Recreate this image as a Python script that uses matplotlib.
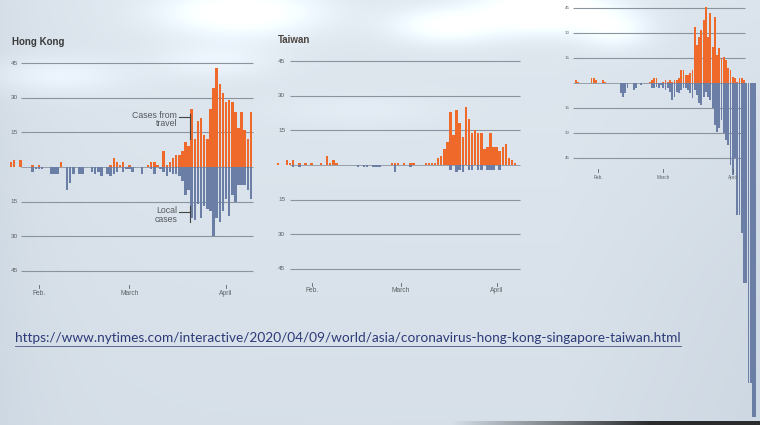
import numpy as np
import pandas as pd
import matplotlib
matplotlib.use("Agg")
import matplotlib.pyplot as plt
from matplotlib.lines import Line2D

# ---------------- data ----------------
month_ticks = [0, 29, 60]                 # days after 1 Feb 2020
month_labels = ["Feb.", "March", "April"]
grid_values = [45, 30, 15, -15, -30, -45]
grid_labels = ["45", "30", "15", "15", "30", "45"]

hk_title = "Hong Kong"
hk_start = "2020-01-23"
hk_travel = [2, 3, 0, 3, 0, 0, 0, 1, 0, 1,
             0, 0, 0, 0, 0, 0, 2, 0, 0, 0,
             0, 0, 0, 0, 0, 0, 0, 0, 0, 0,
             0, 0, 1, 4, 2, 1, 2, 0, 1, 0,
             0, 0, 0, 0, 1, 2, 2, 1, 0, 7,
             1, 2, 4, 5, 5, 7, 11, 9, 25, 12,
             20, 21, 14, 12, 25, 34, 43, 36, 32, 28,
             29, 28, 24, 17, 24, 16, 12, 24]
hk_local = [0, 0, 0, 0, 0, 0, 0, 2, 1, 1,
            1, 0, 0, 3, 3, 3, 0, 0, 10, 7,
            3, 0, 3, 3, 0, 0, 2, 3, 2, 4,
            0, 3, 4, 3, 2, 0, 2, 1, 1, 2,
            0, 0, 3, 0, 0, 1, 3, 0, 1, 2,
            4, 2, 3, 3, 4, 6, 12, 10, 22, 23,
            16, 22, 17, 18, 19, 30, 22, 24, 19, 14,
            21, 12, 15, 8, 8, 8, 10, 14]

tw_title = "Taiwan"
tw_start = "2020-01-21"
tw_travel = [1, 0, 0, 2, 1, 2, 0, 1, 0, 1,
             0, 1, 0, 0, 1, 0, 4, 1, 2, 1,
             0, 0, 0, 0, 0, 0, 0, 0, 0, 0,
             0, 0, 0, 0, 0, 0, 0, 1, 1, 1,
             0, 1, 0, 1, 1, 0, 0, 0, 1, 1,
             1, 1, 3, 4, 7, 10, 23, 13, 24, 18,
             12, 25, 20, 14, 15, 14, 14, 7, 8, 14,
             8, 8, 6, 8, 9, 3, 2, 1, 0]
tw_local = [0, 0, 0, 0, 0, 1, 0, 1, 0, 0,
            0, 0, 0, 0, 0, 0, 0, 0, 0, 0,
            0, 0, 0, 0, 0, 0, 1, 0, 1, 1,
            0, 1, 1, 1, 0, 0, 0, 0, 3, 0,
            0, 0, 0, 1, 0, 0, 0, 0, 0, 0,
            0, 0, 0, 0, 0, 0, 2, 0, 3, 2,
            3, 0, 2, 2, 0, 2, 2, 0, 2, 2,
            2, 0, 2, 0, 0, 0, 0, 0, 0]

sg_start = "2020-01-22"
sg_travel = [2, 1, 0, 0, 0, 0, 0, 3, 3, 2,
             0, 0, 2, 1, 0, 0, 0, 0, 0, 0,
             0, 0, 0, 0, 0, 0, 0, 0, 0, 0,
             0, 0, 0, 1, 2, 3, 3, 0, 0, 1,
             2, 1, 2, 1, 2, 2, 3, 8, 8, 5,
             5, 6, 8, 34, 23, 28, 32, 38, 46, 28,
             42, 22, 40, 17, 21, 15, 16, 14, 9, 8,
             4, 3, 1, 3, 3, 2, 0, 0, 0, 0, 0]
sg_local = [0, 0, 0, 0, 0, 0, 0, 0, 0, 0,
            0, 0, 0, 0, 0, 0, 0, 0, 0, 0,
            6, 8, 6, 3, 0, 0, 4, 3, 0, 1,
            0, 0, 0, 0, 3, 3, 2, 3, 1, 3,
            4, 3, 5, 10, 8, 5, 6, 4, 3, 3,
            4, 6, 9, 4, 7, 12, 13, 8, 5, 8,
            10, 15, 25, 29, 27, 22, 30, 34, 37, 49,
            55, 45, 79, 79, 90, 120, 120, 180, 180, 200, 200]

travel_note = "Cases from\ntravel"
local_note = "Local\ncases"
url = "https://www.nytimes.com/interactive/2020/04/09/world/asia/coronavirus-hong-kong-singapore-taiwan.html"

# ---------------- style ----------------
W, H = 760, 425
ORANGE = "#ef6a2a"
BLUE = "#6b7fa6"
GRID = "#8a949f"
TXT = "#5c6166"
FONT = "Liberation Sans"
plt.rcParams["font.family"] = [FONT, "DejaVu Sans"]

fig = plt.figure(figsize=(W / 100, H / 100), dpi=100)

# photographed-screen background
bg = fig.add_axes([0, 0, 1, 1])
bg.axis("off")
yy, xx = np.mgrid[0:H, 0:W].astype(float)
base = np.array([0.872, 0.905, 0.935])
img = np.ones((H, W, 3)) * base
shade = (0.03 * (yy / H) + 0.035 * np.exp(-xx / 50)
         + 0.035 * np.clip((xx - 560) / 200, 0, 1) * np.clip(yy / H + 0.3, 0, 1))
img -= shade[..., None] * np.array([1.0, 0.9, 0.75])
def glare(cx, cy, sx, sy, a):
    return a * np.exp(-(((xx - cx) / sx) ** 2 + ((yy - cy) / sy) ** 2))
g = (glare(240, 12, 80, 24, 0.16) + glare(445, 25, 55, 18, 0.13) + glare(545, 10, 65, 22, 0.2)
     + glare(615, 30, 35, 18, 0.1) + glare(55, 75, 70, 18, 0.07) + glare(215, 60, 60, 18, 0.06)
     + glare(360, 110, 80, 15, 0.03))
img += g[..., None]
fade = np.clip((xx[H - 4:, :] - 450) / 200, 0, 1)
img[H - 4:, :, :] = img[H - 4:, :, :] * (1 - 0.8 * fade[..., None])
bg.imshow(np.clip(img, 0, 1), extent=[0, W, H, 0], aspect="auto", zorder=0)
bg.set_xlim(0, W)
bg.set_ylim(H, 0)


def make_panel(feb1_px, ppd, zero_px, ppc, xlim, ylim):
    left = feb1_px + xlim[0] * ppd
    right = feb1_px + xlim[1] * ppd
    top = zero_px - ylim[1] * ppc
    bottom = zero_px - ylim[0] * ppc
    ax = fig.add_axes([left / W, 1 - bottom / H, (right - left) / W, (bottom - top) / H])
    ax.set_xlim(*xlim)
    ax.set_ylim(*ylim)
    ax.axis("off")
    ax.patch.set_alpha(0)
    return ax


def draw(ax, start, travel, local, grid_span, label_x, tick_y, label_y, fs_y, fs_m, bar_w=0.82):
    days = (pd.date_range(start, periods=len(travel)) - pd.Timestamp("2020-02-01")).days
    for v, lab in zip(grid_values, grid_labels):
        ax.hlines(v, grid_span[0], grid_span[1], color=GRID, lw=0.8, zorder=1)
        ax.text(label_x, v, lab, fontsize=fs_y, color=TXT, ha="left", va="center", clip_on=False)
    ax.hlines(0, grid_span[0], grid_span[1], color=GRID, lw=0.6, zorder=1)
    ax.bar(days, travel, width=bar_w, color=ORANGE, linewidth=0, zorder=2, clip_on=False)
    ax.bar(days, [-v for v in local], width=bar_w, color=BLUE, linewidth=0, zorder=2, clip_on=False)
    for t, lab in zip(month_ticks, month_labels):
        ax.plot([t, t], tick_y, color=TXT, lw=0.6, clip_on=False)
        ax.text(t, label_y, lab, fontsize=fs_m, color=TXT, ha="center", va="center", clip_on=False)


# Hong Kong
ax_hk = make_panel(39, 3.117, 167, 2.311, (-9.7, 69.5), (-50, 50))
draw(ax_hk, hk_start, hk_travel, hk_local, (-5.8, 68.7), -9.0, (-51.0, -52.4), -54.8, 4.6, 4.8)
ax_hk.text(-8.7, 54.2, hk_title, fontsize=7, weight="bold", color="#3b3b3b", ha="left", va="center", clip_on=False)
ax_hk.text(44.3, 20.6, travel_note, fontsize=6.3, color="#55595e", ha="right", va="center",
           linespacing=0.95, clip_on=False)
ax_hk.plot([44.8, 48.3], [21.6, 21.6], color="#444", lw=0.8)
ax_hk.plot([48.3, 48.3], [23, 12], color="#444", lw=0.8)
ax_hk.text(44.3, -20.8, local_note, fontsize=6.3, color="#55595e", ha="right", va="center",
           linespacing=0.95, clip_on=False)
ax_hk.plot([44.8, 48.3], [-19.4, -19.4], color="#444", lw=0.8)
ax_hk.plot([48.3, 48.3], [-17, -24], color="#444", lw=0.8)

# Taiwan
ax_tw = make_panel(311.7, 3.083, 165, 2.307, (-11.6, 68.5), (-50, 50))
draw(ax_tw, tw_start, tw_travel, tw_local, (-7.1, 67.5), -10.9, (-51.1, -52.5), -54.5, 4.6, 4.8)
ax_tw.text(-10.9, 54.2, tw_title, fontsize=7, weight="bold", color="#4a4540", ha="left", va="center", clip_on=False)

# Singapore (partly off-screen in the photo)
ax_sg = make_panel(598.3, 2.241, 83.3, 1.667, (-15.2, 71), (-205, 50))
draw(ax_sg, sg_start, sg_travel, sg_local, (-11.3, 65.4), -14.9, (-51.5, -53.5), -56.5, 3.2, 3.4)

# URL line
t = fig.text(15 / W, 1 - 338 / H, url, fontsize=10, color="#2c3a78", family=["Lato", "DejaVu Sans"],
             ha="left", va="center")
fig.canvas.draw()
bb = t.get_window_extent()
t.set_fontsize(10 * 665 / bb.width)
fig.canvas.draw()
bb = t.get_window_extent()
fig.add_artist(Line2D([bb.x0 / W, bb.x1 / W], [(bb.y0 - 1.5) / H] * 2, color="#5a6790", lw=0.7))

fig.savefig("out.png", dpi=100)
